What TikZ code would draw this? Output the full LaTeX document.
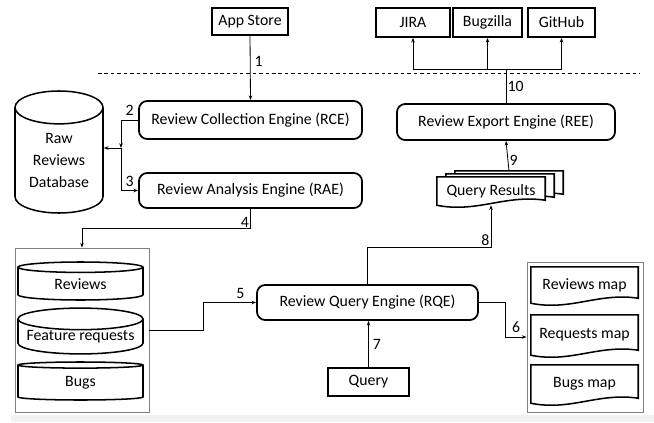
\documentclass[tikz,border=0pt]{standalone}
\usepackage{fontspec}
\setmainfont{Carlito}
\usetikzlibrary{shapes.geometric,arrows.meta,calc,backgrounds}

\tikzset{
  box/.style={draw, line width=1.5pt, inner sep=1pt},
  rbox/.style={box, rounded corners=7pt},
  grp/.style={draw=gray, line width=0.8pt},
  db/.style={cylinder, shape border rotate=90, draw, line width=1.3pt, inner sep=0pt, anchor=shape center},
  doc/.style={inner sep=0pt},
  arr/.style={->, line width=0.7pt},
  >={Stealth[length=4pt,width=3pt]}
}

% document shape with a wavy bottom, drawn round a node
\newcommand{\docshape}[1]{%
  \draw[line width=1.3pt, fill=white] (#1.north west) -- (#1.north east)
    -- ($(#1.south east)+(0,-5)$) .. controls +(-40,-6) and +(40,8) .. (#1.south west) -- cycle;}

\begin{document}
\begin{tikzpicture}[x=0.03cm, y=-0.03cm, font=\fontsize{13.5}{16}\selectfont]
    \useasboundingbox (0,0) rectangle (654,422);
    \fill[gray!10] (11,415) rectangle (654,422);

    % outside sources and targets
    \node[box, minimum width=2.28cm, minimum height=0.81cm] (app) at (250,21.5) {App Store};
    \node[box, minimum width=2.22cm, minimum height=0.87cm] (jira) at (413,22.5) {JIRA};
    \node[box, minimum width=2.07cm, minimum height=0.87cm] (bugz) at (487.5,22.5) {Bugzilla};
    \node[box, minimum width=2.01cm, minimum height=0.87cm] (github) at (561.5,22.5) {GitHub};
    \draw[dash pattern=on 3pt off 2.5pt, line width=0.6pt] (98,73) -- (640,73);

    % engines
    \node[rbox, minimum width=6.69cm, minimum height=1.14cm] (rce) at (250.5,120) {Review Collection Engine (RCE)};
    \node[rbox, minimum width=6.69cm, minimum height=1.05cm] (rae) at (250.5,190.5) {Review Analysis Engine (RAE)};
    \node[rbox, minimum width=6.54cm, minimum height=1.08cm] (ree) at (506,122) {Review Export Engine (REE)};
    \node[rbox, minimum width=6.63cm, minimum height=1.05cm] (rqe) at (367.5,302.5) {Review Query Engine (RQE)};
    \node[box, minimum width=2.43cm, minimum height=0.84cm] (query) at (368.5,382) {Query};

    \node[db, minimum width=2.64cm, minimum height=3.66cm, aspect=0.55, align=center,
          font=\fontsize{13.5}{19}\selectfont] (rawdb) at (59,152) {Raw\\Reviews\\Database};

    % stores
    \node[grp, minimum width=4.02cm, minimum height=4.92cm] (leftgrp) at (82,330) {};
    \node[db, minimum width=3.75cm, minimum height=1.14cm, aspect=0.2] (reviews) at (80.5,281) {Reviews};
    \node[db, minimum width=3.75cm, minimum height=1.14cm, aspect=0.2] (featreq) at (80.5,331) {Feature requests};
    \node[db, minimum width=3.75cm, minimum height=1.14cm, aspect=0.2] (bugs) at (80.5,381) {Bugs};

    \node[grp, minimum width=3.48cm, minimum height=4.5cm] (rightgrp) at (585,337) {};
    \node[doc, minimum width=3.21cm, minimum height=1.08cm] (revmap) at (584.5,285) {Reviews map};
    \node[doc, minimum width=3.21cm, minimum height=1.2cm] (reqmap) at (584.5,335) {Requests map};
    \node[doc, minimum width=3.21cm, minimum height=1.14cm] (bugmap) at (584.5,384) {Bugs map};

    \node[doc, minimum width=3.24cm, minimum height=0.84cm] (qres3) at (509,185) {};
    \node[doc, minimum width=3.24cm, minimum height=0.84cm] (qres2) at (500,188) {};
    \node[doc, minimum width=3.24cm, minimum height=0.84cm] (qres) at (491,191) {Query Results};

    \begin{scope}[on background layer]
        \docshape{revmap}
        \docshape{reqmap}
        \docshape{bugmap}
        \docshape{qres3}
        \docshape{qres2}
        \docshape{qres}
    \end{scope}

    % flows
    \coordinate (jn) at (121,148);
    \coordinate (split) at (506,69);
    \draw[arr] (app.south) -- (rce.north) node[pos=0.4, right] {1};
    \draw[arr] (rce.west) -| (jn) node[pos=0.25, above] {2};
    \draw[arr] (jn) -- (jn -| rawdb.east);
    \draw[arr] (jn) |- (rae.west) node[pos=0.75, above] {3};
    \draw[arr] (rae.south) -- ++(0,20) node[above left, inner sep=1pt] {4} -| (leftgrp.north);
    \draw[arr] (leftgrp.east) -- ++(54,0) |- (rqe.west) node[pos=0.85, above] {5};
    \draw[arr] (rqe.east) -- ++(27,0) |- (rightgrp.west) node[pos=0.75, above] {6};
    \draw[arr] (query.north) -- (query.north |- rqe.south) node[midway, right] {7};
    \draw[arr] (rqe.north) -- ++(0,-37) -| (qres.south) node[pos=0.5, above left, inner sep=1pt] {8};
    \draw[arr] (qres3.north) -- (ree.south) node[pos=0.35, right, inner sep=1pt] {9};
    \draw[line width=0.7pt] (ree.north) -- (split) node[midway, right, inner sep=1pt] {10};
    \draw[arr] (split) -| (jira.south);
    \draw[arr] (split) -| (bugz.south);
    \draw[arr] (split) -| (github.south);
\end{tikzpicture}
\end{document}
